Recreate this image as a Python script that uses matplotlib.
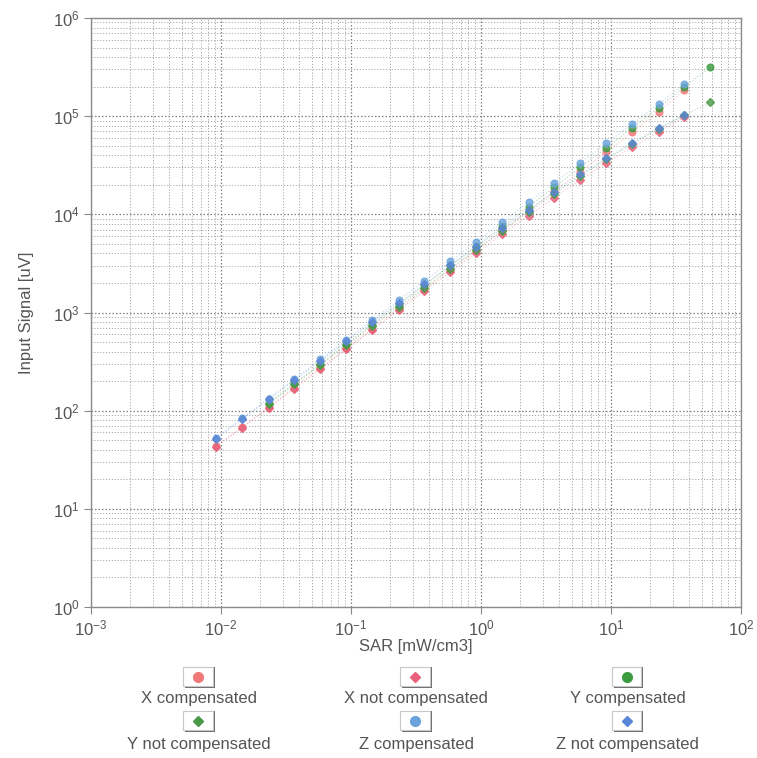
"""Probe linearity plot: input signal vs SAR, log-log."""

import matplotlib

matplotlib.use("Agg")

import matplotlib.pyplot as plt
from matplotlib.lines import Line2D
from matplotlib.patches import Rectangle

plt.rcParams["font.family"] = ["Liberation Sans", "DejaVu Sans"]
plt.rcParams["mathtext.default"] = "regular"

# SAR [mW/cm3] steps
sar = [0.0092, 0.0146, 0.0232, 0.0367, 0.0582, 0.0922, 0.146, 0.232, 0.367, 0.582,
       0.922, 1.46, 2.32, 3.67, 5.82, 9.22, 14.6, 23.2, 36.7, 58.2]

# input signal [uV]
x_comp = [44, 68, 109, 172, 272, 432, 685, 1090, 1720, 2730,
          4330, 6860, 10900, 17200, 27300, 43300, 68600, 110000, 185000]
x_not_comp = [43, 67, 106, 168, 266, 420, 665, 1050, 1650, 2600,
              4050, 6300, 9700, 14800, 22500, 33500, 48500, 69000, 98000]
y_comp = [120, 190, 300, 478, 758, 1200, 1900, 3020, 4780, 7580,
          12000, 19000, 30200, 47800, 75800, 122000, 200000, 315000]
y_not_comp = [117, 185, 292, 462, 728, 1140, 1790, 2800, 4380, 6800,
              10500, 16100, 24500, 36500, 52500, 74000, 102000, 138000]
z_comp = [53, 84, 133, 210, 333, 528, 836, 1330, 2100, 3330,
          5280, 8360, 13300, 21000, 33300, 52800, 83600, 133000, 215000]
z_not_comp = [52, 82, 130, 205, 323, 508, 795, 1245, 1940, 3020,
              4680, 7250, 11100, 16900, 25500, 37500, 53500, 75000, 103000]

RED = "#f07878"
RED_D = "#e8607a"
GREEN = "#3c9a40"
GREEN_D = "#4a9a48"
BLUE = "#6aa3dc"
BLUE_D = "#5b86d6"

series = [
    ("X compensated", sar[:19], x_comp, RED, "o"),
    ("X not compensated", sar[:19], x_not_comp, RED_D, "D"),
    ("Y compensated", sar[2:], y_comp, GREEN, "o"),
    ("Y not compensated", sar[2:], y_not_comp, GREEN_D, "D"),
    ("Z compensated", sar[:19], z_comp, BLUE, "o"),
    ("Z not compensated", sar[:19], z_not_comp, BLUE_D, "D"),
]

fig = plt.figure(figsize=(7.57, 7.58), dpi=100)
ax = fig.add_axes([91 / 757, 1 - 607 / 758, 650 / 757, 589 / 758])
ax.set_xscale("log")
ax.set_yscale("log")
ax.set_xlim(1e-3, 1e2)
ax.set_ylim(1e0, 1e6)

for label, xs, ys, color, marker in series:
    ax.plot(xs, ys, ls=":", lw=0.8, color=color, alpha=0.4, zorder=2)
    ms = 4.8 if marker == "o" else 3.6
    ax.plot(xs, ys, ls="none", marker=marker, ms=ms, color=color,
            mec=color, alpha=0.8, zorder=3)

ax.grid(which="major", color="#808080", ls=(0, (1.2, 1.6)), lw=0.9)
ax.grid(which="minor", color="#a8a8a8", ls=(0, (1.2, 1.8)), lw=0.7)
ax.tick_params(which="major", direction="out", length=5, color="#888888",
               labelsize=12, labelcolor="#555555", pad=3)
ax.tick_params(which="minor", length=0)
for side in ax.spines.values():
    side.set_color("#8c8c8c")
    side.set_linewidth(1.0)

ax.set_xlabel("SAR [mW/cm3]", fontsize=12, color="#555555", labelpad=1)
ax.set_ylabel("Input Signal [uV]", fontsize=12, color="#555555", labelpad=14)

# legend under the plot: marker box above each label, three columns
col_x = [200, 418, 630]
row_box_y = [677, 721]
row_text_y = [699, 744]
W, H = 760.0, 758.0
for i, (label, xs, ys, color, marker) in enumerate(series):
    cx = col_x[i % 3]
    by = row_box_y[i // 3]
    ty = row_text_y[i // 3]
    shadow = Rectangle(((cx - 14) / W, 1 - (by + 11) / H), 30 / W, 21 / H,
                       transform=fig.transFigure, fc="#6e6e6e", ec="none")
    box = Rectangle(((cx - 16) / W, 1 - (by + 9) / H), 30 / W, 19 / H,
                    transform=fig.transFigure, fc="white", ec="#c8c8c8", lw=0.8)
    fig.add_artist(shadow)
    fig.add_artist(box)
    ms = 7 if marker == "o" else 5.5
    fig.add_artist(Line2D([(cx - 1) / W], [1 - by / H], marker=marker, ms=ms,
                          color=color, ls="none", transform=fig.transFigure))
    fig.text(cx / W, 1 - ty / H, label, ha="center", va="center",
             fontsize=12, color="#555555")

fig.savefig("out.png", dpi=100)
